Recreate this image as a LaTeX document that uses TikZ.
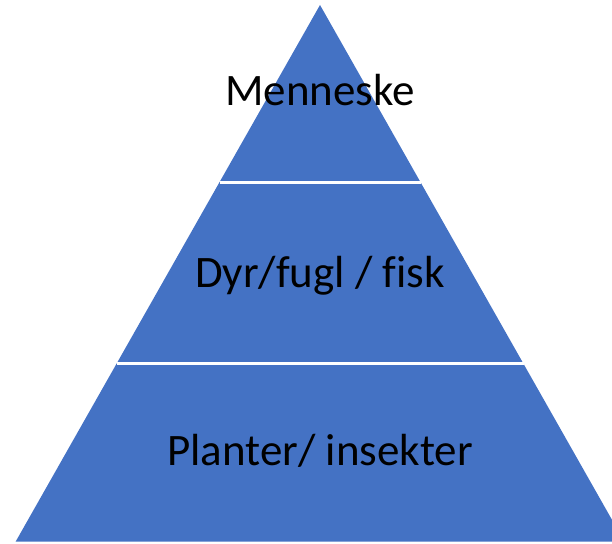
\documentclass[tikz,border=0pt]{standalone}
\usepackage{fontspec}
\setmainfont{Carlito}[Ligatures=NoCommon]
\definecolor{pyrblue}{HTML}{4472C4}
\begin{document}
\begin{tikzpicture}[x=1pt, y=-1pt, every node/.style={inner sep=0pt, outer sep=0pt, anchor=base, font=\fontsize{45}{54}\selectfont}, line join=miter]
        \useasboundingbox (0, 0) rectangle (612, 543);
        \clip (0, 0) rectangle (612, 543);
        \fill[pyrblue] (320, 5) -- (624.3, 541.5) -- (15.7, 541.5) -- cycle;
        \draw[white, line width=3pt] (219.5, 182) -- (420.5, 182);
        \draw[white, line width=3pt] (116.5, 363) -- (523.5, 363);

        \node (top) at (320, 105) {Menneske};
        \node (mid) at (320, 287) {Dyr/fugl / fisk};
        \node (bottom) at (320, 465) {Planter/ insekter};
    \end{tikzpicture}
\end{document}
